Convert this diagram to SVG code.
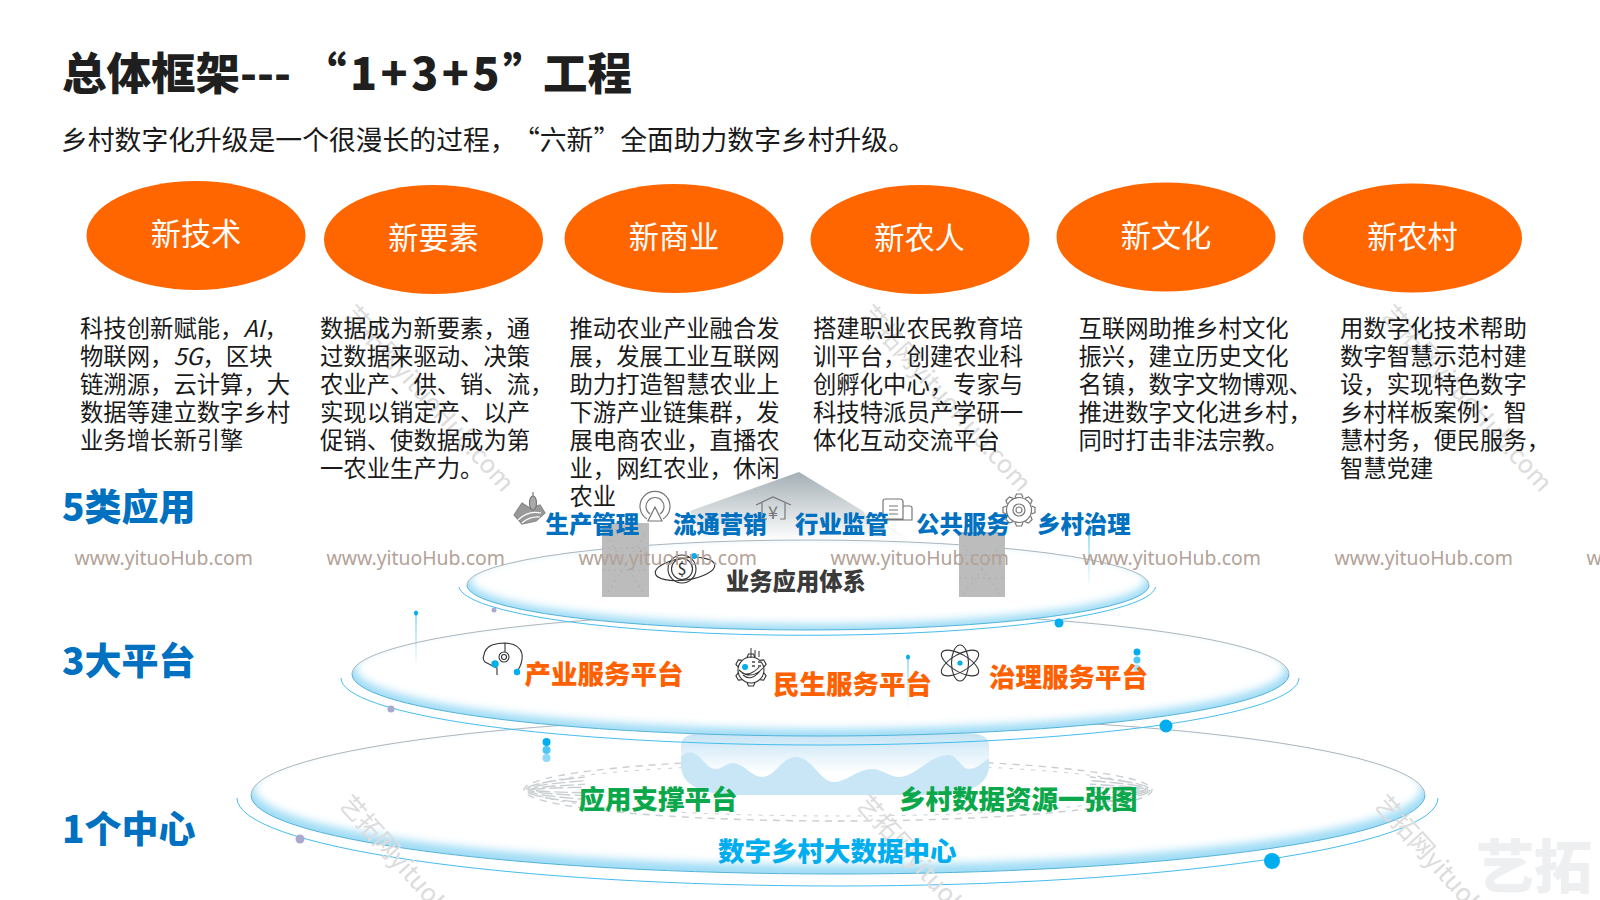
<svg xmlns="http://www.w3.org/2000/svg" width="1600" height="900" viewBox="0 0 1600 900">
<style>
text{font-family:"Noto Sans CJK SC","Noto Sans",sans-serif}
.title{font-size:44.5px;font-weight:900;fill:#1f1f1f}
.sub{font-size:26.8px;fill:#1a1a1a}
.oval{fill:#ff6600}
.ovt{font-size:30.2px;fill:#fff;text-anchor:middle}
.body{font-size:23.35px;fill:#1a1a1a}
.cat{font-size:37px;font-weight:900;fill:#0070c0}
.app{font-size:23.4px;font-weight:900;fill:#0070c0}
.plat{font-size:26.5px;font-weight:900;fill:#ff6000}
.sup{font-size:26.5px;font-weight:900;fill:#0aa84a}
.core{font-size:26.5px;font-weight:900;fill:#00aeef}
.biz{font-size:23.3px;font-weight:900;fill:#3a3a3a}
.wm{font-family:"Noto Sans",sans-serif;font-size:19.4px;fill:#b3a298}
.dg{font-size:25px;fill:#dcdcdc}
.big{font-size:58px;font-weight:900;fill:#eeeff1}
.ic{fill:none;stroke:#777;stroke-width:1.2}
.ik{fill:none;stroke:#333;stroke-width:1.1}
.dot{fill:#00aeef}
.lav{fill:#a9a9d0}
.top{fill:none;stroke:#a4aeb3;stroke-width:.9}
.rim{fill:none;stroke:#52b3d8;stroke-width:1}
</style>
<defs>
<filter id="b6" x="-5%" y="-20%" width="110%" height="140%"><feGaussianBlur stdDeviation="4"/></filter>
<linearGradient id="roof" x1="0" y1="0" x2="0" y2="1"><stop offset="0" stop-color="#a4afb5"/><stop offset="1" stop-color="#ffffff"/></linearGradient>
<linearGradient id="cyl" x1="0" y1="0" x2="0" y2="1"><stop offset="0" stop-color="#c6e4f5"/><stop offset="0.65" stop-color="#ffffff"/></linearGradient>
<linearGradient id="fadeV" x1="0" y1="0" x2="0" y2="1"><stop offset="0" stop-color="#45bdee"/><stop offset="1" stop-color="#45bdee" stop-opacity="0"/></linearGradient>
<clipPath id="c3"><ellipse cx="838" cy="795" rx="587" ry="79"/></clipPath>
<clipPath id="c2"><ellipse cx="820.5" cy="674" rx="468.5" ry="62"/></clipPath>
<clipPath id="c1"><ellipse cx="808" cy="585" rx="341" ry="45"/></clipPath>
<clipPath id="sides"><rect x="515" y="750" width="70" height="80"/><rect x="1090" y="750" width="70" height="80"/></clipPath>
<path id="tooth" d="M-4-12.5L-2.5-16H2.5L4-12.5"/>
</defs>
<rect width="1600" height="900" fill="#fff"/>

<g id="heading">
<text class="title" y="90"><tspan x="62">总体框架---</tspan><tspan x="302" letter-spacing="3.5">“1+3+5”</tspan><tspan x="543" letter-spacing="0">工程</tspan></text>
<text class="sub" y="150"><tspan x="61">乡村数字化升级是一个很漫长的过程，</tspan><tspan x="513">“六新”全面助力数字乡村升级。</tspan></text>
</g>

<g id="roof-shape">
<polygon points="799,472 912,541 702,541 690,511" fill="url(#roof)"/>
<polygon points="862,510 907,540 880,534" fill="#fff" opacity="0.8"/>
</g>

<g id="disk-1center">
<path d="M237 798A600.5 88 0 0 0 1438 798" fill="none" stroke="#45bdee" stroke-width="1"/>
<g clip-path="url(#c3)">
<ellipse cx="838" cy="795" rx="587" ry="79" fill="#9fdcf6"/>
<ellipse cx="838" cy="788" rx="584" ry="77" fill="#fff" filter="url(#b6)"/>
</g>
<path class="top" d="M251 795A587 79 0 0 1 1425 795"/>
<path class="rim" d="M251 795A587 79 0 0 0 1425 795"/>
<circle class="lav" cx="300" cy="839" r="4.5"/>
<circle class="dot" cx="1272" cy="861" r="8"/>
<circle class="dot" cx="546.5" cy="742" r="4"/>
<circle class="dot" cx="546.5" cy="750" r="4" opacity=".7"/>
<circle class="dot" cx="546.5" cy="758" r="4" opacity=".45"/>
</g>

<g id="dotted-ring" fill="none" stroke="#bfc5c8" opacity=".85">
<ellipse cx="838" cy="790" rx="314" ry="31" stroke-width="1.4" stroke-dasharray="7 6"/>
<ellipse cx="838" cy="790" rx="306" ry="26" stroke-width="1" stroke-dasharray="4 7"/>
<g clip-path="url(#sides)" stroke-width="1.4" stroke-dasharray="14 4">
<ellipse cx="838" cy="790" rx="312" ry="22"/>
<ellipse cx="838" cy="790" rx="310" ry="16"/>
<ellipse cx="838" cy="790" rx="308" ry="10"/>
<ellipse cx="838" cy="790" rx="306" ry="5"/>
</g>
</g>

<g id="cylinder">
<path d="M681 745Q681 733 705 733H965Q989 733 989 745V765Q989 795 930 795H740Q681 795 681 765Z" fill="url(#cyl)"/>
<path d="M681 757C687 750 692 752 697 755C704 760 708 769 716 769C722 769 727 762 734 763C745 765 752 777 762 777C775 777 782 757 796 757C812 757 820 782 834 782C846 782 858 769 872 769C882 769 890 777 899 777C915 777 930 755 948 755C958 755 961 769 969 769C977 769 983 762 989 758V765Q989 795 930 795H740Q681 795 681 765Z" fill="#c9e6f6"/>
</g>

<g id="disk-3platform">
<path d="M341 678A479 67 0 0 0 1299 678" fill="none" stroke="#45bdee" stroke-width="1"/>
<g clip-path="url(#c2)">
<ellipse cx="820.5" cy="674" rx="468.5" ry="62" fill="#9fdcf6"/>
<ellipse cx="820.5" cy="668" rx="465" ry="61" fill="#fff" filter="url(#b6)"/>
</g>
<path class="top" d="M352 674A468.5 62 0 0 1 1289 674"/>
<path class="rim" d="M352 674A468.5 62 0 0 0 1289 674"/>
<circle class="lav" cx="391" cy="709" r="3.5"/>
<circle class="dot" cx="1166" cy="726" r="6.5"/>
<rect x="415.5" y="615" width="1" height="52" fill="url(#fadeV)"/>
<ellipse class="dot" cx="416" cy="613" rx="2" ry="2.5"/>
<rect x="907.5" y="657" width="1" height="53" fill="url(#fadeV)"/>
<ellipse class="dot" cx="908" cy="657" rx="2" ry="2.5"/>
<circle class="dot" cx="1137" cy="652" r="3.5"/>
<circle class="dot" cx="1137" cy="660" r="3.5" opacity=".7"/>
<circle class="dot" cx="1137" cy="668" r="3.5" opacity=".35"/>
</g>

<g id="disk-5apps">
<path d="M459 587A348.5 50 0 0 0 1155.6 587" fill="none" stroke="#45bdee" stroke-width="1"/>
<g clip-path="url(#c1)">
<ellipse cx="808" cy="585" rx="341" ry="45" fill="#9fdcf6"/>
<ellipse cx="808" cy="580" rx="338" ry="44" fill="#fff" filter="url(#b6)"/>
</g>
<path class="top" d="M467 585A341 45 0 0 1 1149 585"/>
<path class="rim" d="M467 585A341 45 0 0 0 1149 585"/>
<circle class="lav" cx="494" cy="610" r="2.5"/>
<circle class="dot" cx="1059" cy="623" r="4.5"/>
<rect x="1088.5" y="533" width="1" height="55" fill="url(#fadeV)"/>
<ellipse class="dot" cx="1089" cy="533" rx="2" ry="2.5"/>
</g>

<g id="grey-blocks">
<rect x="602" y="523" width="47" height="74" fill="#bcbcbc"/>
<rect x="959" y="532" width="46" height="65" fill="#bcbcbc"/>
<path d="M606 535L645 595M645 535L606 595M963 545L1001 595M1001 545L963 595M602 548H649M602 570H649M959 555H1005M959 578H1005" stroke="#a3afb4" stroke-width="1" stroke-dasharray="2 4" fill="none"/>
</g>

<g id="icon-wheat" class="ic">
<path d="M514 515L522 503L530 508L540 505L545 513L536 521L522 524Z" fill="#999" stroke="#888"/>
<path d="M518 520Q528 510 541 513M522 523Q530 516 540 517" stroke="#fff"/>
<path d="M533 492V510"/>
<ellipse cx="533" cy="503" rx="3.5" ry="7" fill="#aaa"/>
</g>
<g id="icon-radar" class="ic">
<path d="M647 519A15 15 0 1 1 663 519"/>
<path d="M650 514A9 9 0 1 1 660 514"/>
<path d="M655 507L648 521H662Z" fill="#fff"/>
</g>
<g id="icon-house" class="ic">
<path d="M756 505L773 497L791 505"/>
<path d="M762 503V519H767M785 503V519H780"/>
<text x="773" y="519" text-anchor="middle" font-size="18" fill="#777" stroke="none">¥</text>
</g>
<g id="icon-doc" class="ic">
<path d="M883 519V501Q883 499 885 499H900Q903 499 903 502V519ZM903 506H910Q912 506 912 508V520H883"/>
<path d="M889 506H898M889 510H898M889 514H898"/>
</g>
<g id="icon-gear" class="ic" transform="translate(1019 510)">
<circle r="12.5" fill="#fff"/>
<use href="#tooth"/><use href="#tooth" transform="rotate(45)"/><use href="#tooth" transform="rotate(90)"/><use href="#tooth" transform="rotate(135)"/><use href="#tooth" transform="rotate(180)"/><use href="#tooth" transform="rotate(225)"/><use href="#tooth" transform="rotate(270)"/><use href="#tooth" transform="rotate(315)"/>
<circle r="6"/><circle r="3"/>
</g>
<g id="icon-coin" class="ik">
<circle cx="682" cy="569" r="14"/>
<circle cx="682" cy="569" r="10.5"/>
<ellipse cx="685" cy="569" rx="30" ry="11" transform="rotate(-8 685 569)"/>
<text x="682" y="575" text-anchor="middle" font-size="16" fill="#333" stroke="none">$</text>
<circle class="dot" stroke="none" cx="694" cy="556" r="3"/>
</g>
<g id="icon-head" class="ik" stroke="#555">
<path d="M497 675V668L485 662Q482 659 484 655Q485 648 492 645Q498 643 505 643Q520 644 522 654Q523 662 518 670"/>
<path d="M505 643V652"/>
<circle cx="504" cy="657" r="5"/><circle cx="504" cy="657" r="2.5"/>
<circle class="dot" stroke="none" cx="495" cy="664" r="3.7"/>
<circle class="dot" stroke="none" cx="517" cy="672" r="3.2"/>
</g>
<g id="icon-seed" class="ik">
<g transform="translate(751 670)">
<circle r="13" fill="#fff"/>
<use href="#tooth"/><use href="#tooth" transform="rotate(60)"/><use href="#tooth" transform="rotate(120)"/><use href="#tooth" transform="rotate(180)"/><use href="#tooth" transform="rotate(240)"/><use href="#tooth" transform="rotate(300)"/>
<path d="M-12 0Q0 11 12-2M-9 3Q0 7 10-5M-8 5Q0 12 9 1"/>
</g>
<path d="M751 648V658M755 650V657M759 651V657" stroke-width="1"/>
<path d="M752 662h3M758 662h3M752 666h3M758 666h3" stroke="#777" stroke-width="2"/>
<circle class="dot" stroke="none" cx="745" cy="667" r="3"/>
</g>
<g id="icon-atom" class="ik">
<ellipse cx="960" cy="663" rx="21" ry="8.5" transform="rotate(30 960 663)"/>
<ellipse cx="960" cy="663" rx="21" ry="8.5" transform="rotate(-30 960 663)"/>
<ellipse cx="960" cy="663" rx="8.5" ry="18"/>
<circle class="dot" stroke="none" cx="960" cy="663" r="2.6"/>
</g>

<g id="diagonal-watermarks">
<text class="dg" transform="translate(342 315) rotate(48)">艺拓网yituoHub.com</text>
<text class="dg" transform="translate(859 315) rotate(48)">艺拓网yituoHub.com</text>
<text class="dg" transform="translate(1380 315) rotate(48)">艺拓网yituoHub.com</text>
<text class="dg" transform="translate(338 805) rotate(48)">艺拓网yituoHub.com</text>
<text class="dg" transform="translate(855 805) rotate(48)">艺拓网yituoHub.com</text>
<text class="dg" transform="translate(1373 805) rotate(48)">艺拓网yituoHub.com</text>
<text class="big" x="1476" y="888">艺拓</text>
</g>

<g id="node-xinjishu"><ellipse class="oval" cx="196" cy="235.5" rx="109.5" ry="54.5"/><text class="ovt" x="196" y="245">新技术</text>
<text class="body"><tspan x="80" y="337">科技创新赋能，<tspan font-style="italic">AI</tspan>，</tspan><tspan x="80" y="365">物联网，<tspan font-style="italic">5G</tspan>，区块</tspan><tspan x="80" y="393">链溯源，云计算，大</tspan><tspan x="80" y="421">数据等建立数字乡村</tspan><tspan x="80" y="449">业务增长新引擎</tspan></text></g>

<g id="node-xinyaosu"><ellipse class="oval" cx="433.5" cy="239.5" rx="109.5" ry="54.5"/><text class="ovt" x="433.5" y="249">新要素</text>
<text class="body"><tspan x="320" y="337">数据成为新要素，通</tspan><tspan x="320" y="365">过数据来驱动、决策</tspan><tspan x="320" y="393">农业产、供、销、流，</tspan><tspan x="320" y="421">实现以销定产、以产</tspan><tspan x="320" y="449">促销、使数据成为第</tspan><tspan x="320" y="477">一农业生产力。</tspan></text></g>

<g id="node-xinshangye"><ellipse class="oval" cx="674" cy="238.5" rx="109.5" ry="54.5"/><text class="ovt" x="674" y="248">新商业</text>
<text class="body"><tspan x="569.5" y="337">推动农业产业融合发</tspan><tspan x="569.5" y="365">展，发展工业互联网</tspan><tspan x="569.5" y="393">助力打造智慧农业上</tspan><tspan x="569.5" y="421">下游产业链集群，发</tspan><tspan x="569.5" y="449">展电商农业，直播农</tspan><tspan x="569.5" y="477">业，网红农业，休闲</tspan><tspan x="569.5" y="505">农业</tspan></text></g>

<g id="node-xinnongren"><ellipse class="oval" cx="920" cy="239.5" rx="109.5" ry="54.5"/><text class="ovt" x="919.5" y="249">新农人</text>
<text class="body"><tspan x="813" y="337">搭建职业农民教育培</tspan><tspan x="813" y="365">训平台，创建农业科</tspan><tspan x="813" y="393">创孵化中心，专家与</tspan><tspan x="813" y="421">科技特派员产学研一</tspan><tspan x="813" y="449">体化互动交流平台</tspan></text></g>

<g id="node-xinwenhua"><ellipse class="oval" cx="1166" cy="237" rx="109.5" ry="54.5"/><text class="ovt" x="1166" y="247">新文化</text>
<text class="body"><tspan x="1078.5" y="337">互联网助推乡村文化</tspan><tspan x="1078.5" y="365">振兴，建立历史文化</tspan><tspan x="1078.5" y="393">名镇，数字文物博观、</tspan><tspan x="1078.5" y="421">推进数字文化进乡村，</tspan><tspan x="1078.5" y="449">同时打击非法宗教。</tspan></text></g>

<g id="node-xinnongcun"><ellipse class="oval" cx="1412.5" cy="238" rx="109.5" ry="54.5"/><text class="ovt" x="1412.5" y="248">新农村</text>
<text class="body"><tspan x="1340" y="337">用数字化技术帮助</tspan><tspan x="1340" y="365">数字智慧示范村建</tspan><tspan x="1340" y="393">设，实现特色数字</tspan><tspan x="1340" y="421">乡村样板案例：智</tspan><tspan x="1340" y="449">慧村务，便民服务，</tspan><tspan x="1340" y="477">智慧党建</tspan></text></g>

<g id="layer-labels">
<text class="cat" x="62" y="521">5类应用</text>
<text class="cat" x="62" y="675">3大平台</text>
<text class="cat" x="62" y="843">1个中心</text>
<text class="app" x="545.5" y="533">生产管理</text>
<text class="app" x="673" y="533">流通营销</text>
<text class="app" x="795" y="533">行业监管</text>
<text class="app" x="916" y="533">公共服务</text>
<text class="app" x="1037" y="533">乡村治理</text>
<text class="biz" x="726" y="590">业务应用体系</text>
<text class="plat" x="524.5" y="684">产业服务平台</text>
<text class="plat" x="773" y="694">民生服务平台</text>
<text class="plat" x="989" y="687">治理服务平台</text>
<text class="sup" x="578.5" y="809">应用支撑平台</text>
<text class="sup" x="899" y="809">乡村数据资源一张图</text>
<text class="core" x="718" y="861">数字乡村大数据中心</text>
</g>

<g id="url-watermarks">
<text class="wm" x="74.5" y="565">www.yituoHub.com</text>
<text class="wm" x="326.5" y="565">www.yituoHub.com</text>
<text class="wm" x="578.5" y="565">www.yituoHub.com</text>
<text class="wm" x="830.5" y="565">www.yituoHub.com</text>
<text class="wm" x="1082.5" y="565">www.yituoHub.com</text>
<text class="wm" x="1334.5" y="565">www.yituoHub.com</text>
<text class="wm" x="1586.5" y="565">www.yituoHub.com</text>
</g>
<g id="connectors"/>
</svg>
